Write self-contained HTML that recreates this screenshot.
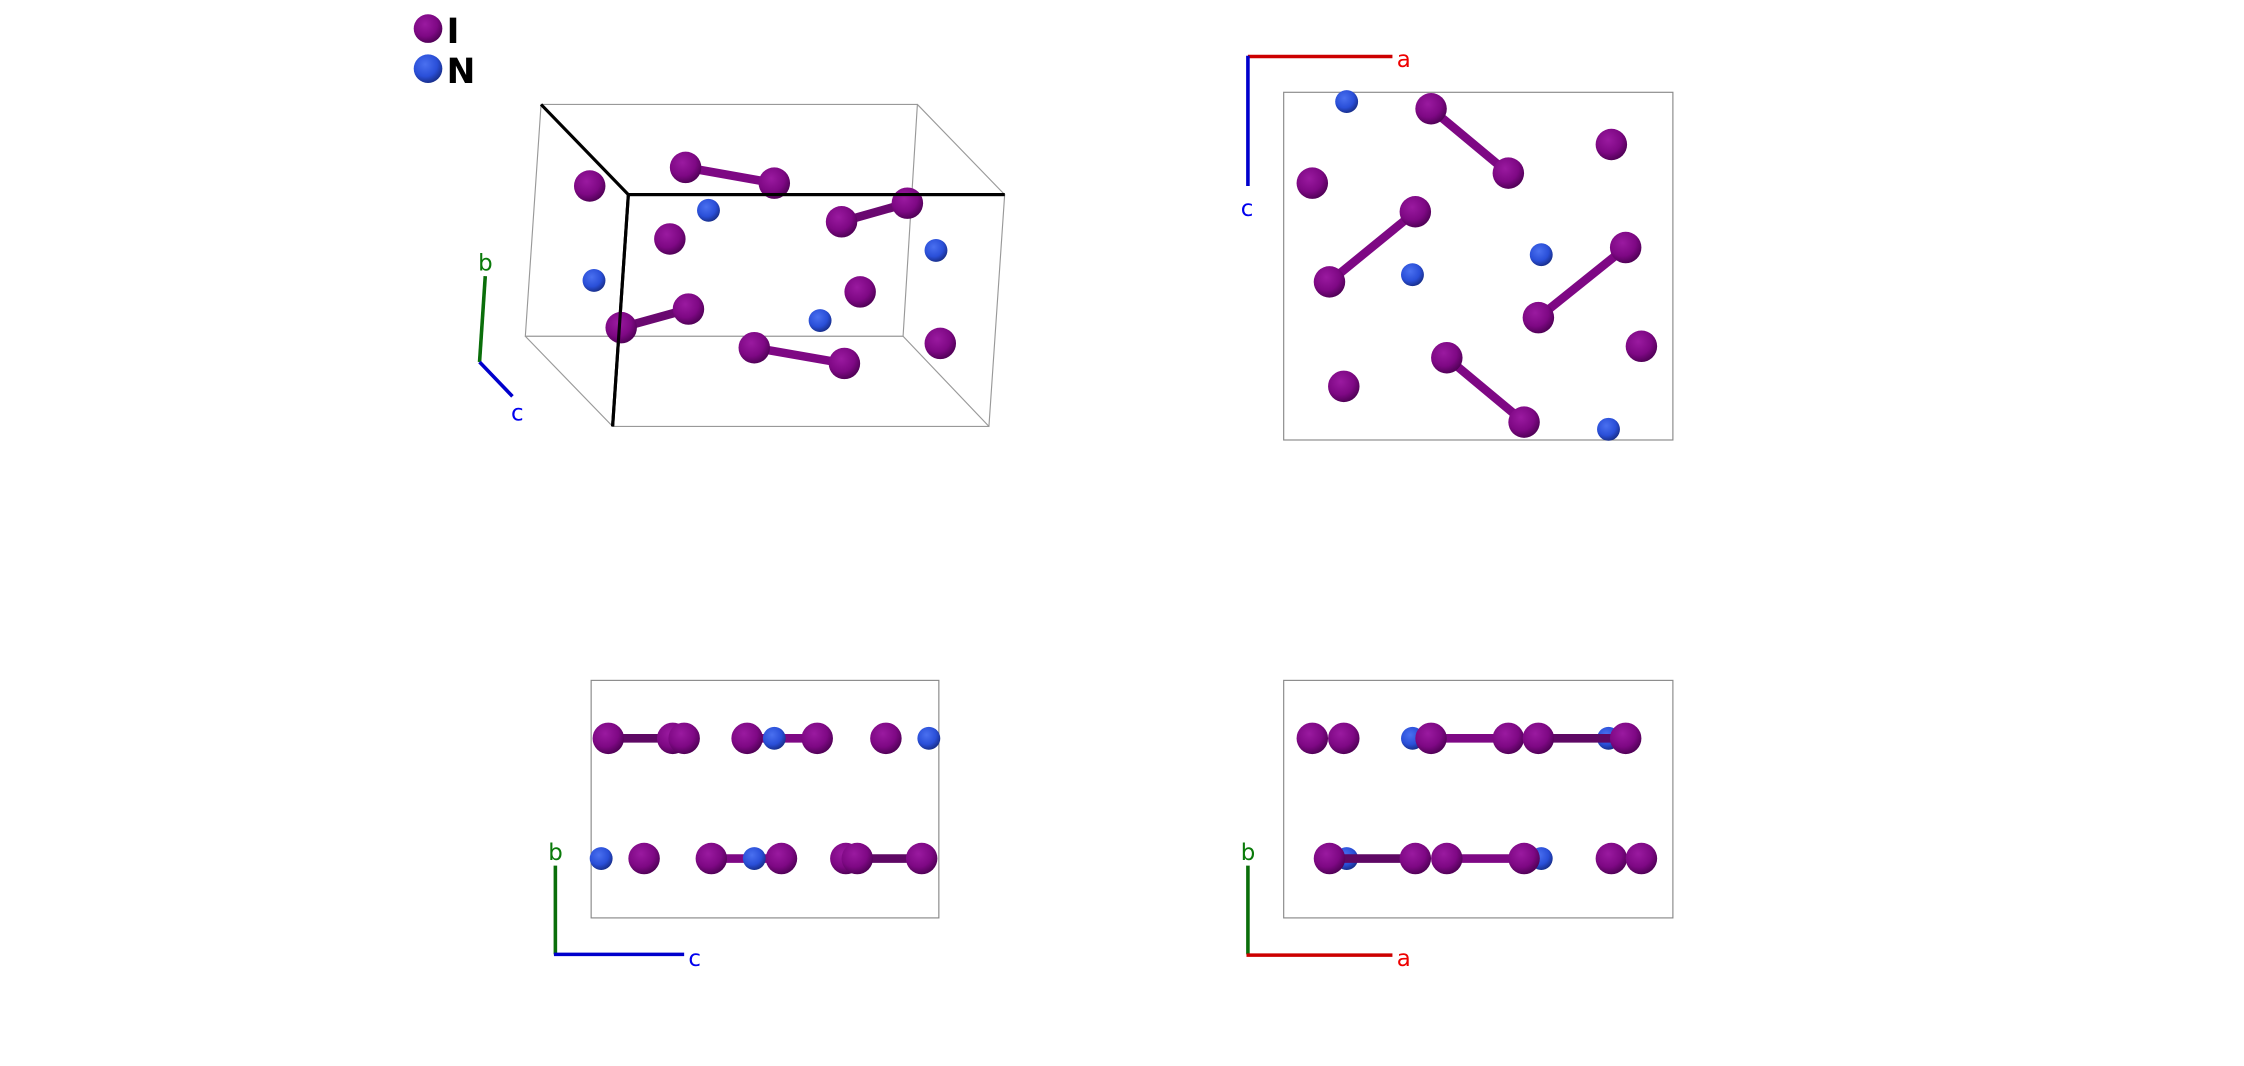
<!DOCTYPE html>
<html><head><meta charset="utf-8"><style>html,body{margin:0;padding:0;background:#fff;overflow:hidden}svg{display:block}</style></head><body>
<svg width="2244" height="1066" viewBox="0 0 1568 745" xmlns="http://www.w3.org/2000/svg" font-family="DejaVu Sans, Liberation Sans, sans-serif">
<defs>
<radialGradient id="gi" cx="0.4" cy="0.35" r="0.7"><stop offset="0" stop-color="#9a1aa0"/><stop offset="0.6" stop-color="#7e0884"/><stop offset="1" stop-color="#4a0050"/></radialGradient>
<radialGradient id="gn" cx="0.4" cy="0.35" r="0.7"><stop offset="0" stop-color="#4a70f0"/><stop offset="0.6" stop-color="#2a4fd8"/><stop offset="1" stop-color="#162a80"/></radialGradient>
<symbol id="I" viewBox="-11 -11 22 22" overflow="visible"><circle r="11" fill="url(#gi)"/></symbol>
</defs>
<g stroke-linecap="butt">
<!-- legend -->
<circle cx="299" cy="20" r="10" fill="url(#gi)"/><circle cx="299" cy="48" r="10" fill="url(#gn)"/>
<text x="312" y="30" font-size="24" font-weight="bold">I</text>
<text x="312" y="58" font-size="24" font-weight="bold">N</text>

<!-- top-left box -->
<g stroke="#999" stroke-width="0.8" fill="none">
<polygon points="378,73 641,73 631,235 367,235"/>
<polygon points="439,136 702,136 691,298 428,298"/>
<line x1="641" y1="73" x2="702" y2="136"/><line x1="631" y1="235" x2="691" y2="298"/><line x1="367" y1="235" x2="428" y2="298"/>
</g>
<g stroke="#000" stroke-width="2.2"><line x1="378" y1="73" x2="439" y2="136"/><line x1="439" y1="136" x2="702" y2="136"/><line x1="439" y1="136" x2="428" y2="298"/></g>
<g stroke-width="6">
<line x1="479" y1="117" x2="541" y2="128" stroke="#7e0884"/>
<line x1="588" y1="155" x2="634" y2="142" stroke="#6a0870"/>
<line x1="434" y1="229" x2="481" y2="216" stroke="#6a0870"/>
<line x1="527" y1="243" x2="590" y2="254" stroke="#7e0884"/>
</g>
<g fill="url(#gi)">
<circle cx="412" cy="130" r="11"/><circle cx="479" cy="117" r="11"/><circle cx="541" cy="128" r="11"/><circle cx="468" cy="167" r="11"/>
<circle cx="588" cy="155" r="11"/><circle cx="634" cy="142" r="11"/><circle cx="601" cy="204" r="11"/><circle cx="481" cy="216" r="11"/><circle cx="434" cy="229" r="11"/>
<circle cx="527" cy="243" r="11"/><circle cx="590" cy="254" r="11"/><circle cx="657" cy="240" r="11"/>
</g>
<line x1="439" y1="136" x2="428" y2="298" stroke="#000" stroke-width="2.2" opacity="0.9"/>
<line x1="439" y1="136" x2="702" y2="136" stroke="#000" stroke-width="2.2"/>
<g fill="url(#gn)"><circle cx="495" cy="147" r="8"/><circle cx="415" cy="196" r="8"/><circle cx="573" cy="224" r="8"/><circle cx="654" cy="175" r="8"/></g>
<line x1="339" y1="193" x2="335" y2="253" stroke="#0a6e0a" stroke-width="2.5"/>
<line x1="335" y1="253" x2="358" y2="277" stroke="#0000cc" stroke-width="2.5"/>
<text x="334" y="189" font-size="16" fill="#0a7a0a">b</text>
<text x="357" y="294" font-size="16" fill="#0000ee">c</text>

<!-- top-right -->
<rect x="897" y="64.5" width="272" height="243" fill="none" stroke="#888" stroke-width="0.8"/>
<line x1="872" y1="39.5" x2="973" y2="39.5" stroke="#cc0000" stroke-width="2.5"/>
<line x1="872" y1="39" x2="872" y2="130" stroke="#0000cc" stroke-width="2.5"/>
<text x="976" y="47" font-size="16" fill="#ee0000">a</text>
<text x="867" y="151" font-size="16" fill="#0000ee">c</text>
<g stroke="#7e0884" stroke-width="6">
<line x1="1000" y1="76" x2="1054" y2="121"/><line x1="989" y1="148" x2="929" y2="197"/><line x1="1136" y1="173" x2="1075" y2="222"/><line x1="1011" y1="250" x2="1065" y2="295"/>
</g>
<g fill="url(#gi)">
<circle cx="1000" cy="76" r="11"/><circle cx="1054" cy="121" r="11"/><circle cx="1126" cy="101" r="11"/><circle cx="917" cy="128" r="11"/>
<circle cx="989" cy="148" r="11"/><circle cx="929" cy="197" r="11"/><circle cx="1136" cy="173" r="11"/><circle cx="1075" cy="222" r="11"/>
<circle cx="1147" cy="242" r="11"/><circle cx="939" cy="270" r="11"/><circle cx="1011" cy="250" r="11"/><circle cx="1065" cy="295" r="11"/>
</g>
<g fill="url(#gn)"><circle cx="941" cy="71" r="8"/><circle cx="987" cy="192" r="8"/><circle cx="1077" cy="178" r="8"/><circle cx="1124" cy="300" r="8"/></g>

<!-- bottom-left -->
<rect x="413" y="475.5" width="243" height="166" fill="none" stroke="#888" stroke-width="0.8"/>
<line x1="388" y1="605" x2="388" y2="667" stroke="#0a6e0a" stroke-width="2.5"/>
<line x1="387" y1="667" x2="478" y2="667" stroke="#0000cc" stroke-width="2.5"/>
<text x="383" y="601" font-size="16" fill="#0a7a0a">b</text>
<text x="481" y="675" font-size="16" fill="#0000ee">c</text>
<g stroke-width="6">
<line x1="425" y1="516" x2="470" y2="516" stroke="#5e0864"/>
<line x1="522" y1="516" x2="571" y2="516" stroke="#7e0884"/>
<line x1="497" y1="600" x2="546" y2="600" stroke="#7e0884"/>
<line x1="599" y1="600" x2="644" y2="600" stroke="#5e0864"/>
</g>
<g fill="url(#gi)">
<circle cx="425" cy="516" r="11"/><circle cx="470" cy="516" r="11"/><circle cx="478" cy="516" r="11"/><circle cx="522" cy="516" r="11"/>
<circle cx="571" cy="516" r="11"/><circle cx="619" cy="516" r="11"/>
<circle cx="450" cy="600" r="11"/><circle cx="497" cy="600" r="11"/><circle cx="591" cy="600" r="11"/><circle cx="599" cy="600" r="11"/><circle cx="644" cy="600" r="11"/>
</g>
<g fill="url(#gn)"><circle cx="541" cy="516" r="8"/><circle cx="649" cy="516" r="8"/><circle cx="420" cy="600" r="8"/><circle cx="527" cy="600" r="8"/></g>
<circle cx="546" cy="600" r="11" fill="url(#gi)"/>

<!-- bottom-right -->
<rect x="897" y="475.5" width="272" height="166" fill="none" stroke="#888" stroke-width="0.8"/>
<line x1="872" y1="605" x2="872" y2="667" stroke="#0a6e0a" stroke-width="2.5"/>
<line x1="871" y1="667.5" x2="973" y2="667.5" stroke="#cc0000" stroke-width="2.5"/>
<text x="867" y="601" font-size="16" fill="#0a7a0a">b</text>
<text x="976" y="675" font-size="16" fill="#ee0000">a</text>
<g fill="url(#gn)"><circle cx="987" cy="516" r="8"/><circle cx="1124" cy="516" r="8"/><circle cx="941" cy="600" r="8"/><circle cx="1077" cy="600" r="8"/></g>
<g stroke-width="6">
<line x1="1000" y1="516" x2="1054" y2="516" stroke="#7e0884"/>
<line x1="1075" y1="516" x2="1136" y2="516" stroke="#5e0864"/>
<line x1="929" y1="600" x2="989" y2="600" stroke="#5e0864"/>
<line x1="1011" y1="600" x2="1065" y2="600" stroke="#7e0884"/>
</g>
<g fill="url(#gi)">
<circle cx="917" cy="516" r="11"/><circle cx="939" cy="516" r="11"/><circle cx="1000" cy="516" r="11"/><circle cx="1054" cy="516" r="11"/><circle cx="1075" cy="516" r="11"/><circle cx="1136" cy="516" r="11"/>
<circle cx="929" cy="600" r="11"/><circle cx="989" cy="600" r="11"/><circle cx="1011" cy="600" r="11"/><circle cx="1065" cy="600" r="11"/><circle cx="1126" cy="600" r="11"/><circle cx="1147" cy="600" r="11"/>
</g>
</g>
</svg>
</body></html>
